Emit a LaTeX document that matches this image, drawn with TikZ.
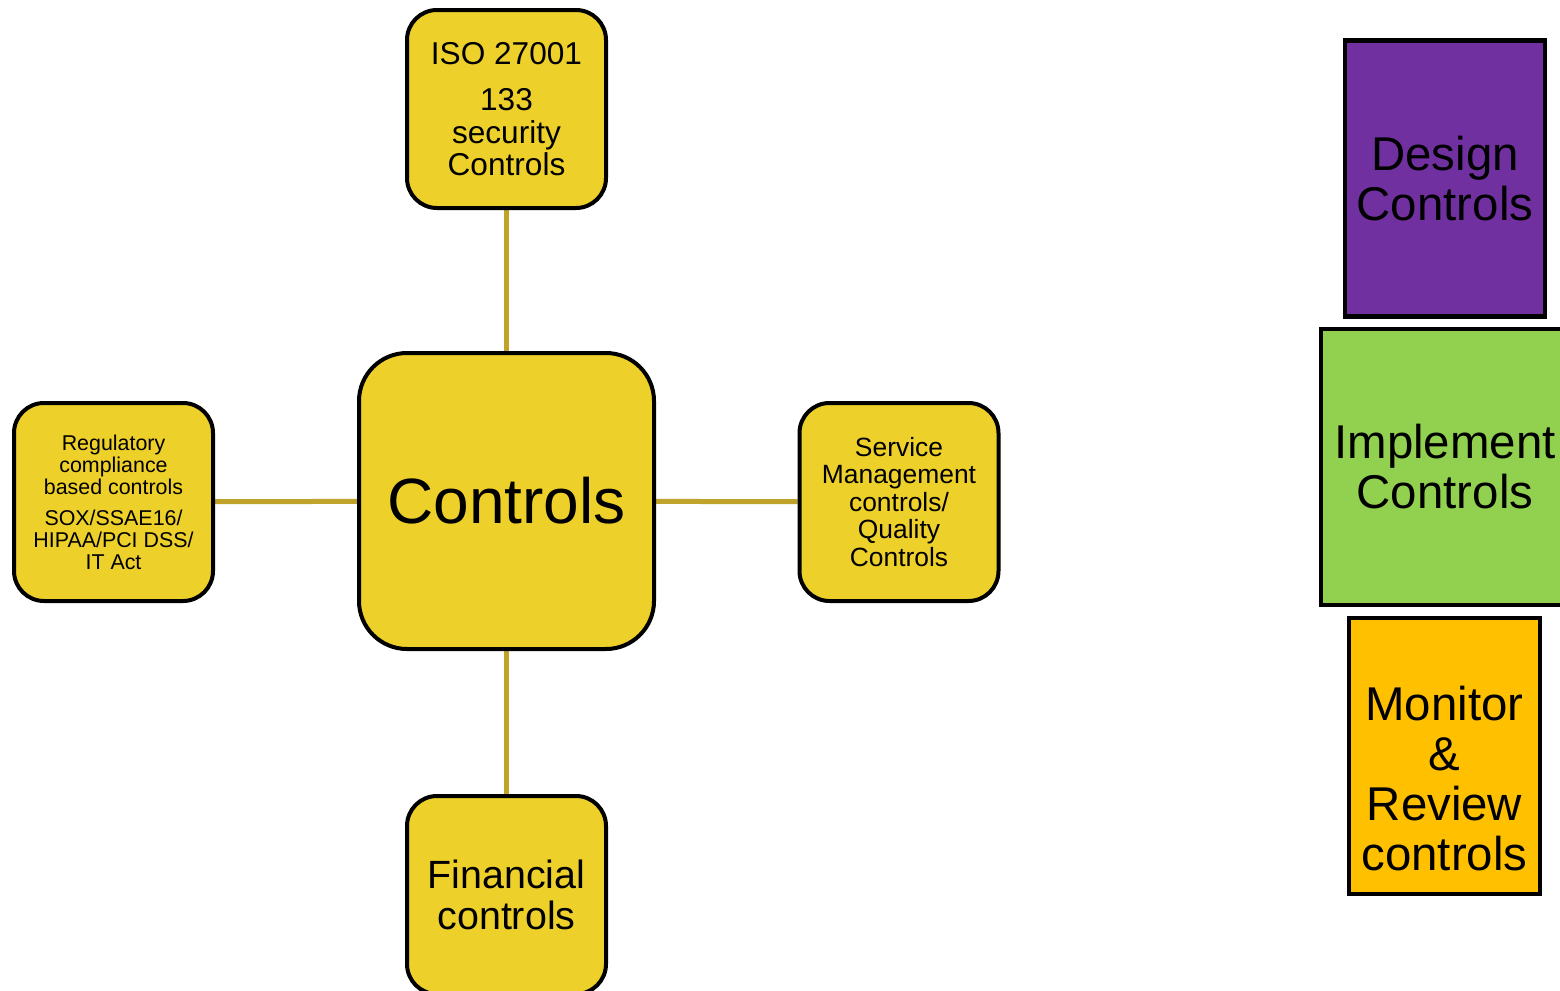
\documentclass[tikz,border=0pt]{standalone}
\usepackage{fontspec}
\setmainfont{Liberation Sans}
\usetikzlibrary{positioning,backgrounds}
\definecolor{cyellow}{HTML}{EED02A}
\definecolor{clinkc}{HTML}{BFA32B}
\definecolor{cpurple}{HTML}{7030A0}
\definecolor{cgreen}{HTML}{92D050}
\definecolor{corange}{HTML}{FFC000}
\tikzset{
  cbox/.style={rounded corners=15pt, draw=black, fill=cyellow, line width=2pt,
               minimum width=99.5pt, minimum height=99pt, align=center, inner sep=2pt},
  ccentre/.style={cbox, rounded corners=24pt, minimum width=147.5pt, minimum height=148pt},
  clink/.style={draw=clinkc, line width=2.5pt},
  cstage/.style={draw=black, line width=2.2pt, align=center, inner sep=2pt,
                 minimum height=138pt, font=\fontsize{23.7}{25}\selectfont},
}
\begin{document}
\begin{tikzpicture}[x=0.5pt,y=-0.5pt]
  \useasboundingbox (0,0) rectangle (1560,991);

  % centre and the four kinds of controls
  \node[ccentre, font=\fontsize{32}{34}\selectfont] (ctrl) at (506.5,501) {Controls};
  \node[cbox, font=\fontsize{15.8}{16.25}\selectfont] (iso) at (506.5,109)
    {ISO 27001\\[7pt]133\\security\\Controls};
  \node[cbox, font=\fontsize{10.7}{11}\selectfont] (reg) at (113.5,502)
    {Regulatory\\compliance\\based controls\\[4.5pt]SOX/SSAE16/\\HIPAA/PCI DSS/\\IT Act};
  \node[cbox, font=\fontsize{13.2}{13.75}\selectfont] (svc) at (899,502)
    {Service\\Management\\controls/\\Quality\\Controls};
  \node[cbox, font=\fontsize{19.7}{20.5}\selectfont] (fin) at (506.5,895)
    {Financial\\controls};

  % links
  \begin{scope}[on background layer]
    \foreach \n in {iso,reg,svc,fin}
      \draw[clink] (ctrl) -- (\n);
  \end{scope}

  % life cycle
  \node[cstage, fill=cpurple, minimum width=100pt] (design) at (1445,178.5) {Design\\Controls};
  \node[cstage, fill=cgreen, minimum width=124pt] (impl) at (1445,467) {Implement\\Controls};
  \node[cstage, fill=corange, minimum width=95.5pt] (monitor) at (1444.5,756) {};
  \node[align=center, font=\fontsize{23.7}{25}\selectfont] (montext) at (1444.5,779)
    {Monitor\\\&\\Review\\controls};

\end{tikzpicture}
\end{document}
